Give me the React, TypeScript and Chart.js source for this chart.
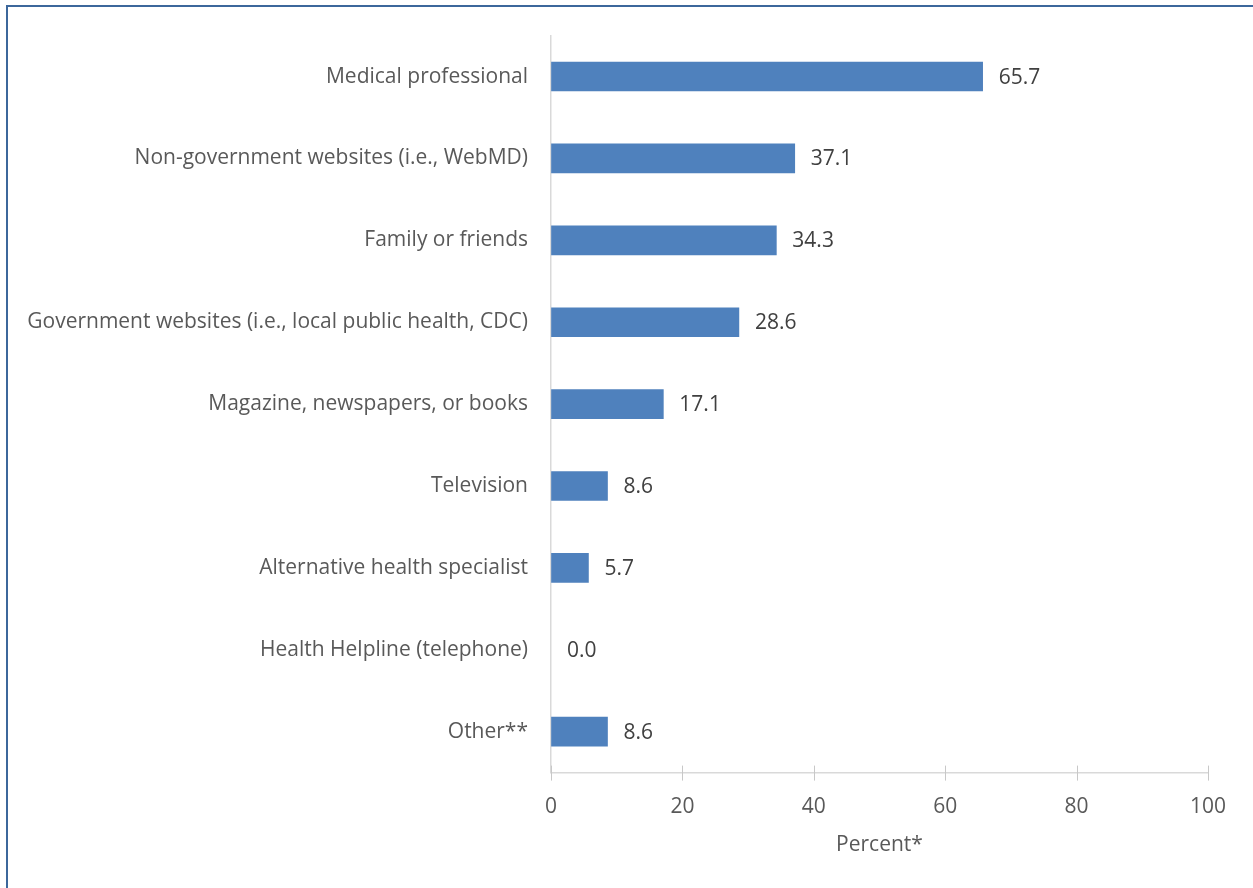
import React, { useEffect, useRef } from "react";
import { Chart, registerables } from "chart.js";

Chart.register(...registerables);

const categories = [
  "Medical professional",
  "Non-government websites (i.e., WebMD)",
  "Family or friends",
  "Government websites (i.e., local public health, CDC)",
  "Magazine, newspapers, or books",
  "Television",
  "Alternative health specialist",
  "Health Helpline (telephone)",
  "Other**",
];
const values = [65.7, 37.1, 34.3, 28.6, 17.1, 8.6, 5.7, 0.0, 8.6];
const xTicks = [0, 20, 40, 60, 80, 100];
const axisTitle = "Percent*";

const FONT = "'Open Sans', 'Liberation Sans', sans-serif";
const FONT_SIZE = 21;

const dataLabels = {
  id: "dataLabels",
  afterDatasetsDraw(chart: any) {
    const ctx = chart.ctx;
    const meta = chart.getDatasetMeta(0);
    ctx.save();
    ctx.font = `${FONT_SIZE}px ${FONT}`;
    ctx.fillStyle = "#404040";
    ctx.textAlign = "left";
    ctx.textBaseline = "middle";
    meta.data.forEach((el: any, i: number) => {
      const v = chart.data.datasets[0].data[i] as number;
      ctx.fillText(v.toFixed(1), el.x + 16, el.y + 1);
    });
    ctx.restore();
  },
};

const crossTicks = {
  id: "crossTicks",
  afterDraw(chart: any) {
    const ctx = chart.ctx;
    const xs = chart.scales.x;
    const y = chart.chartArea.bottom;
    ctx.save();
    ctx.strokeStyle = "#c8c8c8";
    ctx.lineWidth = 1;
    xTicks.forEach((t) => {
      const px = Math.round(xs.getPixelForValue(t)) + 0.5;
      ctx.beginPath();
      ctx.moveTo(px, y - 7);
      ctx.lineTo(px, y + 8);
      ctx.stroke();
    });
    ctx.restore();
  },
};

export default function App() {
  const ref = useRef<HTMLCanvasElement>(null);
  useEffect(() => {
    if (!ref.current) return;
    const chart = new Chart(ref.current, {
      type: "bar",
      data: {
        labels: categories,
        datasets: [
          {
            data: values,
            backgroundColor: values.map((v) => (v === 0 ? "rgba(0,0,0,0)" : "#4f81bd")),
            barThickness: 29,
          },
        ],
      },
      options: {
        indexAxis: "y",
        responsive: false,
        animation: false,
        maintainAspectRatio: false,
        layout: { padding: { top: 35, right: 45, bottom: 30, left: 0 } },
        plugins: {
          legend: { display: false },
          tooltip: { enabled: false },
        },
        scales: {
          x: {
            min: 0,
            max: 100,
            afterBuildTicks: (scale: any) => {
              scale.ticks = xTicks.map((v) => ({ value: v }));
            },
            grid: { drawOnChartArea: false, drawTicks: false },
            border: { display: true, color: "#d9d9d9", width: 1.5 },
            ticks: {
              padding: 22,
              color: "#595959",
              font: { family: FONT, size: FONT_SIZE },
            },
            title: {
              display: true,
              text: axisTitle,
              color: "#595959",
              font: { family: FONT, size: FONT_SIZE },
              padding: { top: -9, bottom: 0 },
            },
          },
          y: {
            afterFit: (scale: any) => {
              scale.width = 551;
            },
            grid: { display: false, drawTicks: false },
            border: { display: true, color: "#d9d9d9", width: 1.5 },
            ticks: {
              padding: 23,
              color: "#595959",
              font: { family: FONT, size: FONT_SIZE },
            },
          },
        },
      },
      plugins: [dataLabels, crossTicks],
    });
    return () => chart.destroy();
  }, []);

  return (
    <div
      style={{
        position: "absolute",
        left: 0,
        top: 0,
        width: 1253,
        height: 888,
        overflow: "hidden",
        background: "#fff",
      }}
    >
      <div
        style={{
          position: "absolute",
          left: 6,
          top: 5,
          width: 1400,
          height: 1000,
          borderLeft: "2.5px solid #3c679b",
          borderTop: "2.5px solid #3c679b",
        }}
      />
      <canvas
        ref={ref}
        width={1253}
        height={888}
        style={{ position: "absolute", left: 0, top: 0, width: 1253, height: 888 }}
      />
    </div>
  );
}
